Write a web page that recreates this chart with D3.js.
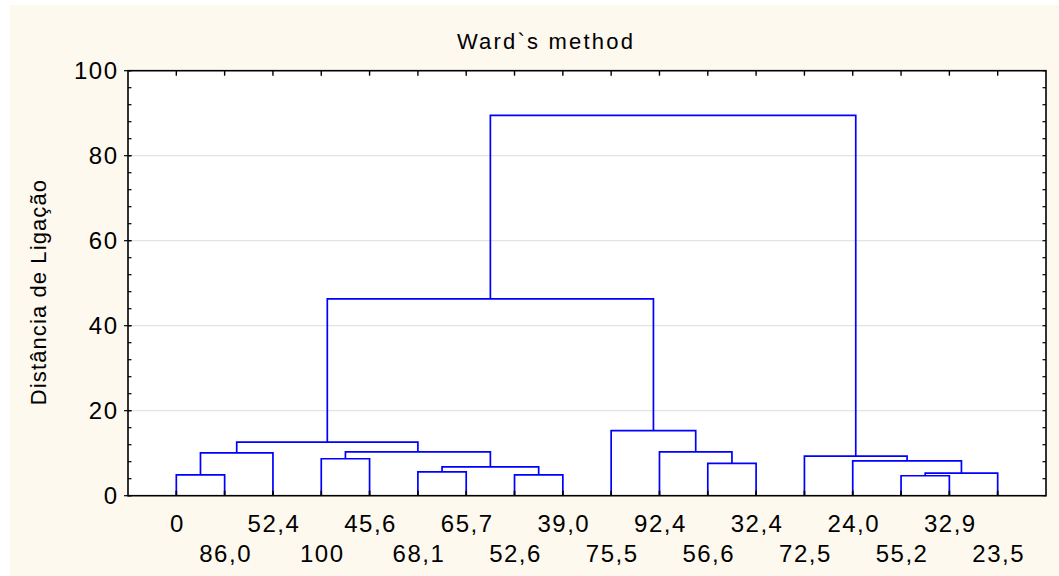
<!DOCTYPE html>
<html>
<head>
<meta charset="utf-8">
<script src="https://cdn.jsdelivr.net/npm/d3@7"></script>
<style>
  html, body { margin: 0; padding: 0; background: #ffffff; }
  svg { display: block; }
  text { font-family: "Liberation Sans", Arial, sans-serif; fill: #000; }
</style>
</head>
<body>
<svg id="chart" width="1059" height="576"></svg>
<script>
// ---- data ----
const title = "Ward`s method";
const yTitle = "Distância de Ligação";
const leafLabels = ["0","86,0","52,4","100","45,6","68,1","65,7","52,6","39,0",
                    "75,5","92,4","56,6","32,4","72,5","24,0","55,2","32,9","23,5"];
// merges: ids < 18 are leaves, id 18+k is the cluster made by merge k
const mergeLeft   = [0, 18, 3, 5, 7, 21, 20, 19, 11, 10,  9, 15, 29, 14, 13, 25, 33];
const mergeRight  = [1,  2, 4, 6, 8, 22, 23, 24, 12, 26, 27, 16, 17, 30, 31, 28, 32];
const mergeHeight = [4.9, 10.1, 8.7, 5.6, 4.9, 6.8, 10.3, 12.6, 7.6, 10.3, 15.3,
                     4.7, 5.3, 8.2, 9.3, 46.3, 89.5];
const yTicks = [0, 20, 40, 60, 80, 100];
const yMinorStep = 4;

// ---- layout ----
const W = 1059, H = 576;
const plot = { left: 128, right: 1046, top: 70.7, bottom: 495.7 };
const svg = d3.select("#chart");

svg.append("rect").attr("x", 10).attr("y", 5).attr("width", W - 10).attr("height", H - 5)
   .attr("fill", "#fdf9ef");
svg.append("rect").attr("x", plot.left).attr("y", plot.top)
   .attr("width", plot.right - plot.left).attr("height", plot.bottom - plot.top)
   .attr("fill", "#ffffff");

const x = d3.scalePoint().domain(d3.range(leafLabels.length))
            .range([plot.left, plot.right]).padding(1);
const y = d3.scaleLinear().domain([0, 100]).range([plot.bottom, plot.top]);

// grid
svg.append("g").selectAll("line").data(yTicks.filter(t => t > 0 && t < 100)).join("line")
   .attr("x1", plot.left).attr("x2", plot.right)
   .attr("y1", d => y(d)).attr("y2", d => y(d))
   .attr("stroke", "#e3e3e3").attr("stroke-width", 1.2);

// cluster positions
const nodeX = leafLabels.map((_, i) => x(i));
const nodeH = leafLabels.map(() => 0);
const links = [];
mergeLeft.forEach((l, k) => {
  const r = mergeRight[k], h = mergeHeight[k];
  links.push({ xl: nodeX[l], hl: nodeH[l], xr: nodeX[r], hr: nodeH[r], h });
  nodeX.push((nodeX[l] + nodeX[r]) / 2);
  nodeH.push(h);
});

svg.append("g").selectAll("path").data(links).join("path")
   .attr("d", d => `M${d.xl},${y(d.hl)}V${y(d.h)}H${d.xr}V${y(d.hr)}`)
   .attr("fill", "none").attr("stroke", "#0000ff").attr("stroke-width", 1.7);

// axes frame
const axisColor = "#000";
// left axis
const leftAxis = d3.axisLeft(y).tickValues(yTicks).tickSize(0).tickPadding(11)
                   .tickFormat(d3.format("d"));
const gL = svg.append("g").attr("transform", `translate(${plot.left},0)`).call(leftAxis);
gL.select(".domain").remove();
gL.selectAll("text").attr("font-size", 24).attr("letter-spacing", "1.5px")
  .attr("font-family", "Liberation Sans, Arial, sans-serif").attr("dx", "1.5px");

const minor = d3.range(0, 100.01, yMinorStep);
// left minor ticks (inward) and major ticks (crossing)
svg.append("g").selectAll("line").data(minor).join("line")
   .attr("x1", plot.left).attr("x2", plot.left + 3.5)
   .attr("y1", d => y(d)).attr("y2", d => y(d)).attr("stroke", axisColor).attr("stroke-width", 1.2);
svg.append("g").selectAll("line").data(yTicks).join("line")
   .attr("x1", plot.left - 4).attr("x2", plot.left + 3.5)
   .attr("y1", d => y(d)).attr("y2", d => y(d)).attr("stroke", axisColor).attr("stroke-width", 1.2);
// right ticks
svg.append("g").selectAll("line").data(minor).join("line")
   .attr("x1", plot.right - 3.5).attr("x2", plot.right)
   .attr("y1", d => y(d)).attr("y2", d => y(d)).attr("stroke", axisColor).attr("stroke-width", 1.2);
// top / bottom leaf ticks
svg.append("g").selectAll("line").data(d3.range(leafLabels.length)).join("line")
   .attr("x1", d => x(d)).attr("x2", d => x(d))
   .attr("y1", plot.top).attr("y2", plot.top + 5).attr("stroke", axisColor).attr("stroke-width", 1.4);
svg.append("g").selectAll("line").data(d3.range(leafLabels.length)).join("line")
   .attr("x1", d => x(d)).attr("x2", d => x(d))
   .attr("y1", plot.bottom - 5).attr("y2", plot.bottom).attr("stroke", axisColor).attr("stroke-width", 1.7);

svg.append("rect").attr("x", plot.left).attr("y", plot.top)
   .attr("width", plot.right - plot.left).attr("height", plot.bottom - plot.top)
   .attr("fill", "none").attr("stroke", axisColor).attr("stroke-width", 1.6);

// x labels (alternating rows)
svg.append("g").selectAll("text").data(leafLabels).join("text")
   .attr("x", (d, i) => x(i) + 1)
   .attr("y", (d, i) => i % 2 === 0 ? 532 : 561.5)
   .attr("text-anchor", "middle").attr("font-size", 24).attr("letter-spacing", "1.5px")
   .text(d => d);

// title
svg.append("text").attr("x", 546).attr("y", 49).attr("text-anchor", "middle")
   .attr("font-size", 22).attr("letter-spacing", "2.2px").text(title);

// y title
svg.append("text").attr("transform", "translate(46,292) rotate(-90)")
   .attr("text-anchor", "middle").attr("font-size", 22).attr("letter-spacing", "1.1px")
   .text(yTitle);
</script>
</body>
</html>
